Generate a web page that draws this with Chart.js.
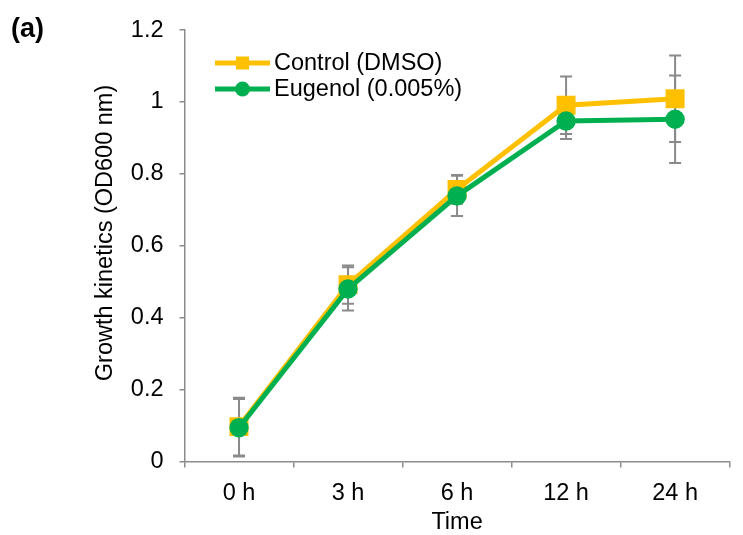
<!DOCTYPE html>
<html>
<head>
<meta charset="utf-8">
<script src="https://cdn.jsdelivr.net/npm/chart.js@4/dist/chart.umd.min.js"></script>
<style>
  body { margin: 0; background: #fff; overflow: hidden; }
  canvas { display: block; }
</style>
</head>
<body>
<canvas id="myChart" width="743" height="535"></canvas>
<script>
const hours = ["0 h", "3 h", "6 h", "12 h", "24 h"];
const controlOD = [0.097, 0.492, 0.757, 0.991, 1.009];
const controlErr = [0.08, 0.053, 0.04, 0.08, 0.12];
const eugenolOD = [0.094, 0.48, 0.739, 0.947, 0.952];
const eugenolErr = [0.08, 0.06, 0.056, 0.05, 0.122];
const yTicks = [0, 0.2, 0.4, 0.6, 0.8, 1, 1.2];

const FONT = "'Liberation Sans', Arial, sans-serif";
const FS = 23.5;
const axisGray = "#8c8c8c";

let ctx = document.getElementById("myChart");

// error bars go under the markers
const errorBars = {
  id: "errorBars",
  beforeDatasetsDraw(chart) {
    const c = chart.ctx;
    const y = chart.scales.y;
    c.save();
    c.strokeStyle = "#8a8a8a";
    c.lineWidth = 2;
    chart.data.datasets.forEach((ds, i) => {
      const meta = chart.getDatasetMeta(i);
      meta.data.forEach((pt, j) => {
        const v = ds.data[j];
        const e = ds.errors[j];
        const top = y.getPixelForValue(v + e);
        const bot = y.getPixelForValue(v - e);
        c.beginPath();
        c.moveTo(pt.x, top);
        c.lineTo(pt.x, bot);
        c.moveTo(pt.x - 6, top);
        c.lineTo(pt.x + 6, top);
        c.moveTo(pt.x - 6, bot);
        c.lineTo(pt.x + 6, bot);
        c.stroke();
      });
    });
    c.restore();
  },
};

// legend (line + marker), y title and panel letter
const lineLegend = {
  id: "lineLegend",
  afterDraw(chart) {
    const c = chart.ctx;
    const rows = [63, 89];
    c.save();
    chart.data.datasets.forEach((ds, i) => {
      const yy = rows[i];
      c.strokeStyle = ds.borderColor;
      c.lineWidth = 5;
      c.beginPath();
      c.moveTo(215, yy);
      c.lineTo(270, yy);
      c.stroke();
      c.fillStyle = ds.borderColor;
      if (ds.pointStyle === "rect") {
        c.fillRect(236, yy - 6.5, 13, 13);
      } else {
        c.beginPath();
        c.arc(242.5, yy, 7.5, 0, Math.PI * 2);
        c.fill();
      }
      c.fillStyle = "#000";
      c.font = FS + "px " + FONT;
      c.textBaseline = "middle";
      c.textAlign = "left";
      c.fillText(ds.label, 274, yy + 1);
    });

    c.save();
    c.translate(112, 233);
    c.rotate(-Math.PI / 2);
    c.textAlign = "center";
    c.textBaseline = "alphabetic";
    c.fillText("Growth kinetics (OD600 nm)", 0, 0);
    c.restore();

    c.font = "bold 27px " + FONT;
    c.textBaseline = "middle";
    c.textAlign = "left";
    c.fillText("(a)", 11, 29.5);
    c.restore();
  },
};

var config = {
  type: "line",
  data: {
    labels: hours,
    datasets: [
      {
        label: "Control (DMSO)",
        data: controlOD,
        errors: controlErr,
        borderColor: "#FFC000",
        backgroundColor: "#FFC000",
        borderWidth: 5,
        pointStyle: "rect",
        pointRadius: 13.4,
        pointBorderWidth: 0,
        order: 1,
      },
      {
        label: "Eugenol (0.005%)",
        data: eugenolOD,
        errors: eugenolErr,
        borderColor: "#00B050",
        backgroundColor: "#00B050",
        borderWidth: 5,
        pointStyle: "circle",
        pointRadius: 9.7,
        pointBorderWidth: 0,
        order: 0,
      },
    ],
  },
  options: {
    responsive: false,
    animation: false,
    layout: { padding: { top: 28, left: 0, right: 0, bottom: 0 } },
    scales: {
      x: {
        offset: true,
        grid: {
          offset: true,
          drawOnChartArea: false,
          color: axisGray,
          lineWidth: 1.5,
          tickLength: 6,
        },
        border: { color: axisGray, width: 1.5 },
        ticks: {
          color: "#000",
          padding: 11.5,
          font: { family: FONT, size: FS },
          maxRotation: 0,
        },
        title: {
          display: true,
          text: "Time",
          color: "#000",
          font: { family: FONT, size: FS },
          padding: { top: 0, bottom: -1.5 },
        },
        afterFit: (s) => { s.height = 73.5; },
      },
      y: {
        min: 0,
        max: 1.2,
        afterBuildTicks: (s) => { s.ticks = yTicks.map((v) => ({ value: v })); },
        grid: {
          drawOnChartArea: false,
          color: axisGray,
          lineWidth: 1.5,
          tickLength: 5,
        },
        border: { color: axisGray, width: 1.5 },
        ticks: {
          color: "#000",
          padding: 16,
          font: { family: FONT, size: FS },
          callback: (v) => String(Math.round(v * 10) / 10),
        },
        afterFit: (s) => { s.width = 184.5; },
      },
    },
    plugins: {
      legend: { display: false },
      tooltip: { enabled: false },
    },
  },
  plugins: [errorBars, lineLegend],
};

const myChart = new Chart(ctx, config);
</script>
</body>
</html>
